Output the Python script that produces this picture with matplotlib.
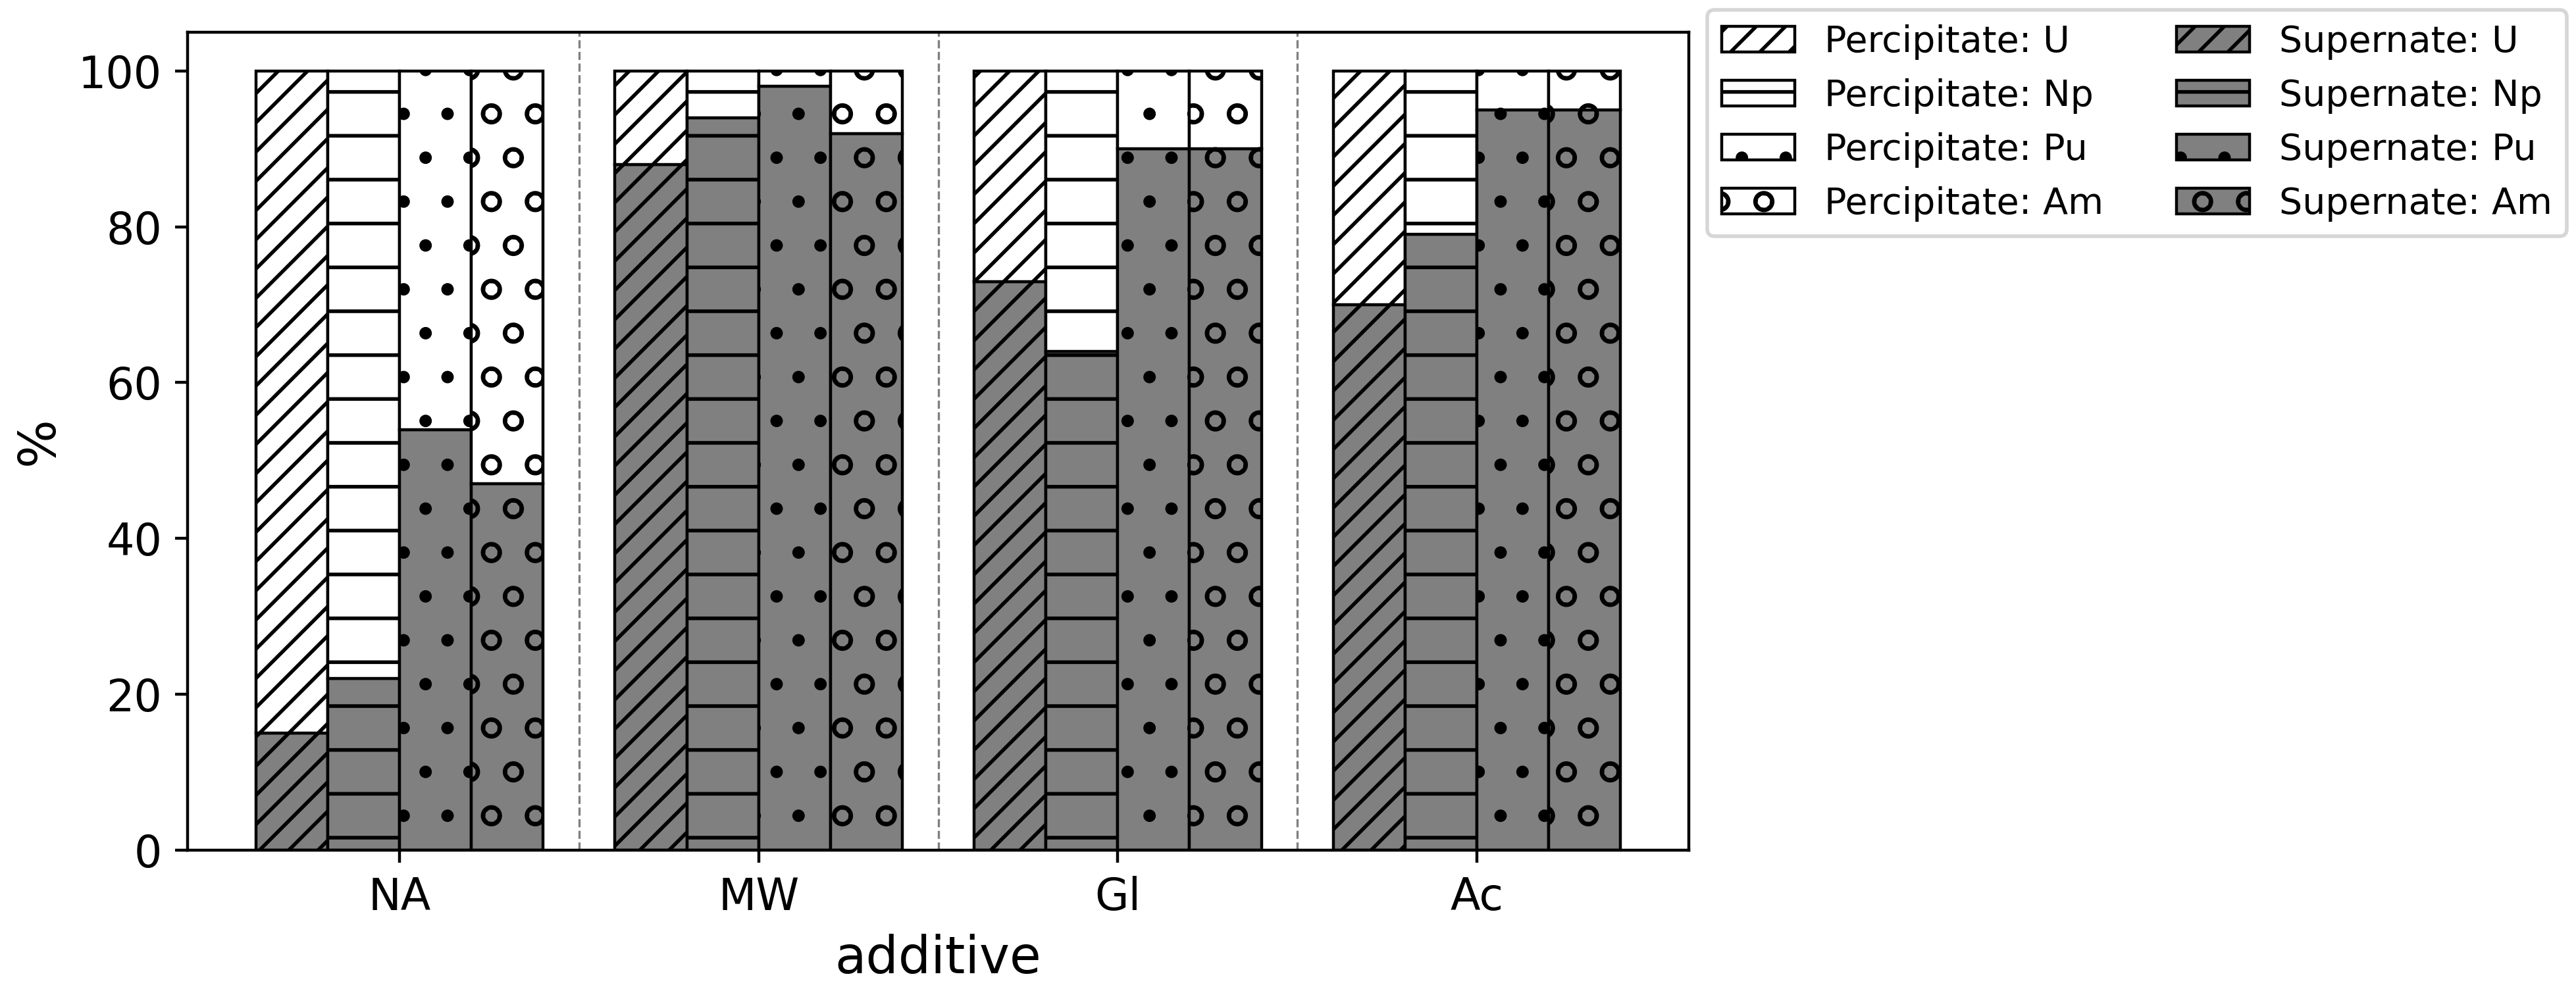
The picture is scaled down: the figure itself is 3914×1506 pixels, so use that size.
import numpy as np
import matplotlib
matplotlib.use('Agg')
import matplotlib.pyplot as plt

# percent of each element left in the supernate, per additive
additives = ['NA', 'MW', 'Gl', 'Ac']
elements = ['U', 'Np', 'Pu', 'Am']
hatches = ['///', '-', '.', 'o']

sup_U = [15, 88, 73, 70]
sup_Np = [22, 94, 64, 79]
sup_Pu = [54, 98, 90, 95]
sup_Am = [47, 92, 90, 95]
supernate = [sup_U, sup_Np, sup_Pu, sup_Am]

# final image size; the canvas gets a small extra strip on the top/left
# (cropped off at the end) so the hatch tiling lines up like the original
W, H = 3914, 1506
dx, dy = 20, 27
CW, CH = W + dx, H + dy
DPI = 400


def frac(px, py):
    # pixel position in the final image (top-left origin) -> figure fraction
    return (px + dx) / CW, 1 - (py + dy) / CH


fig = plt.figure(figsize=(CW / DPI, CH / DPI), dpi=DPI)
l, t = frac(285, 48.6)
r, b = frac(2566, 1292)
ax = fig.add_axes([l, b, r - l, t - b])

x = np.arange(len(additives))
width = 0.2
perc_handles = []
sup_handles = []
for i, el in enumerate(elements):
    pos = x - 0.3 + i * width
    sup = np.array(supernate[i])
    perc = 100 - sup
    b1 = ax.bar(pos, sup, width, color='gray', edgecolor='black',
                linewidth=0.8, hatch=hatches[i], label='Supernate: ' + el)
    b2 = ax.bar(pos, perc, width, bottom=sup, color='white', edgecolor='black',
                linewidth=0.8, hatch=hatches[i], label='Percipitate: ' + el)
    sup_handles.append(b1)
    perc_handles.append(b2)

for xs in [0.5, 1.5, 2.5]:
    ax.axvline(xs, color='gray', linestyle='--', linewidth=0.6)

ax.set_xticks(x)
ax.set_xticklabels(additives, fontsize=12)
ax.tick_params(axis='y', labelsize=12)
ax.set_xlabel('additive', fontsize=14)
ax.set_ylabel('%', fontsize=14)

handles = perc_handles + sup_handles
ax.legend(handles, [h.get_label() for h in handles], ncol=2, fontsize=10,
          loc='upper left', bbox_to_anchor=frac(2594, 15),
          bbox_transform=fig.transFigure, borderaxespad=0)

fig.canvas.draw()
img = np.asarray(fig.canvas.buffer_rgba())[dy:, dx:]
plt.imsave('out.png', img, dpi=DPI)
